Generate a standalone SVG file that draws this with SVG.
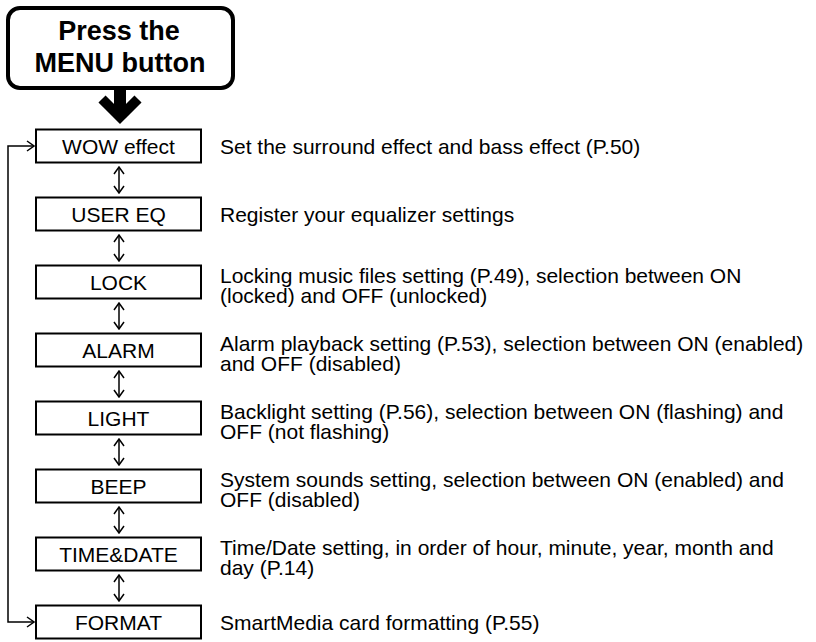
<svg xmlns="http://www.w3.org/2000/svg" width="816" height="642" viewBox="0 0 816 642">
<style>
.box{fill:#fff;stroke:#000;stroke-width:2}
.lbl{font-family:"Liberation Sans",Arial,sans-serif;font-size:21px;text-anchor:middle;fill:#000}
.desc{font-family:"Liberation Sans",Arial,sans-serif;font-size:21px;fill:#000}
.thin{fill:none;stroke:#000;stroke-width:1.5}
.title{font-family:"Liberation Sans",Arial,sans-serif;font-size:27px;font-weight:bold;text-anchor:middle;fill:#000}
</style>
<defs>
<marker id="oa" viewBox="0 0 10 12" refX="9" refY="6" markerWidth="10" markerHeight="12" markerUnits="userSpaceOnUse" orient="auto-start-reverse">
<path d="M2,1 L9,6 L2,11" fill="none" stroke="#000" stroke-width="1.5"/>
</marker>
</defs>
<rect width="816" height="642" fill="#fff"/>
<g id="menu">
<rect x="8" y="8" width="225" height="80" rx="12" ry="12" fill="#fff" stroke="#000" stroke-width="4"/>
<text class="title" x="119" y="40">Press the</text>
<text class="title" x="120" y="72">MENU button</text>
</g>
<g id="connectors">
<path d="M120,88 V116" stroke="#000" stroke-width="12" fill="none"/>
<path d="M102,99 L120,117 L138,99" stroke="#000" stroke-width="10" fill="none" stroke-linejoin="miter"/>
<path class="thin" d="M34,622 H8 V146 H34" marker-start="url(#oa)" marker-end="url(#oa)"/>
<path class="thin" d="M119,167 V193" marker-start="url(#oa)" marker-end="url(#oa)"/>
<path class="thin" d="M119,235 V261" marker-start="url(#oa)" marker-end="url(#oa)"/>
<path class="thin" d="M119,303 V329" marker-start="url(#oa)" marker-end="url(#oa)"/>
<path class="thin" d="M119,371 V397" marker-start="url(#oa)" marker-end="url(#oa)"/>
<path class="thin" d="M119,439 V465" marker-start="url(#oa)" marker-end="url(#oa)"/>
<path class="thin" d="M119,507 V533" marker-start="url(#oa)" marker-end="url(#oa)"/>
<path class="thin" d="M119,575 V601" marker-start="url(#oa)" marker-end="url(#oa)"/>
</g>
<g id="wow">
<rect class="box" x="36" y="129.5" width="165" height="33"/>
<text class="lbl" x="118.5" y="153.5">WOW effect</text>
<text class="desc" x="220" y="153.5">Set the surround effect and bass effect (P.50)</text>
</g>
<g id="usereq">
<rect class="box" x="36" y="197.5" width="165" height="33"/>
<text class="lbl" x="118.5" y="221.5">USER EQ</text>
<text class="desc" x="220" y="221.5">Register your equalizer settings</text>
</g>
<g id="lock">
<rect class="box" x="36" y="265.5" width="165" height="33"/>
<text class="lbl" x="118.5" y="289.5">LOCK</text>
<text class="desc" x="220" y="282.5">Locking music files setting (P.49), selection between ON<tspan x="220" dy="20">(locked) and OFF (unlocked)</tspan></text>
</g>
<g id="alarm">
<rect class="box" x="36" y="333.5" width="165" height="33"/>
<text class="lbl" x="118.5" y="357.5">ALARM</text>
<text class="desc" x="220" y="350.5">Alarm playback setting (P.53), selection between ON (enabled)<tspan x="220" dy="20">and OFF (disabled)</tspan></text>
</g>
<g id="light">
<rect class="box" x="36" y="401.5" width="165" height="33"/>
<text class="lbl" x="118.5" y="425.5">LIGHT</text>
<text class="desc" x="220" y="418.5">Backlight setting (P.56), selection between ON (flashing) and<tspan x="220" dy="20">OFF (not flashing)</tspan></text>
</g>
<g id="beep">
<rect class="box" x="36" y="469.5" width="165" height="33"/>
<text class="lbl" x="118.5" y="493.5">BEEP</text>
<text class="desc" x="220" y="486.5">System sounds setting, selection between ON (enabled) and<tspan x="220" dy="20">OFF (disabled)</tspan></text>
</g>
<g id="timedate">
<rect class="box" x="36" y="537.5" width="165" height="33"/>
<text class="lbl" x="118.5" y="561.5">TIME&amp;DATE</text>
<text class="desc" x="220" y="554.5">Time/Date setting, in order of hour, minute, year, month and<tspan x="220" dy="20">day (P.14)</tspan></text>
</g>
<g id="format">
<rect class="box" x="36" y="605.5" width="165" height="33"/>
<text class="lbl" x="118.5" y="629.5">FORMAT</text>
<text class="desc" x="220" y="629.5">SmartMedia card formatting (P.55)</text>
</g>
</svg>
